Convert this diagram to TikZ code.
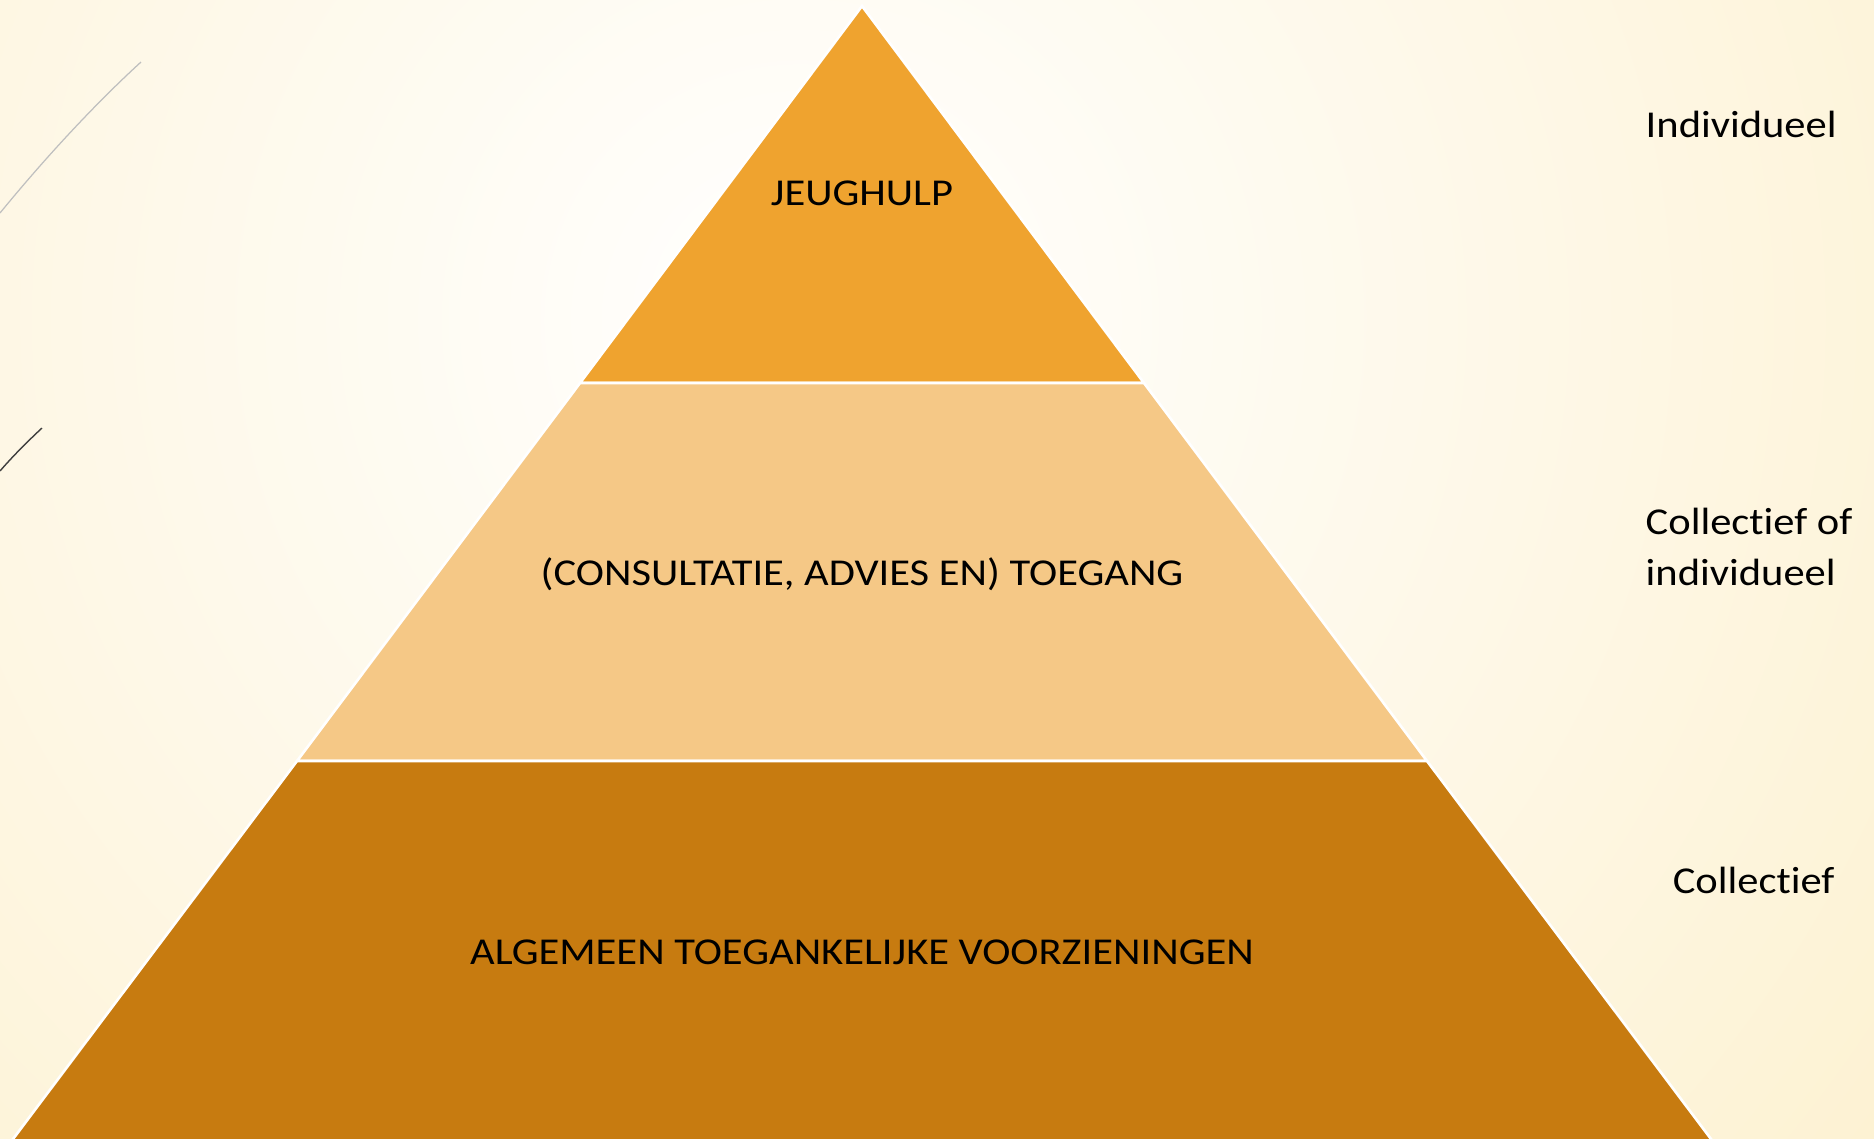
\documentclass[tikz,border=0pt]{standalone}
\usepackage{fontspec}
\setmainfont[FakeStretch=1.12,Ligatures=NoCommon]{Carlito}
\usetikzlibrary{calc}

\definecolor{bgedge}{RGB}{252,235,188}
\definecolor{tiertop}{RGB}{239,163,47}
\definecolor{tiermid}{RGB}{245,200,134}
\definecolor{tierlow}{RGB}{199,123,16}

\begin{document}
\begin{tikzpicture}[x=0.01cm,y=-0.01cm,
                    font=\fontsize{10.8}{14.5}\selectfont]
  \tikzstyle{tier}=[draw=white,line width=0.75pt,line join=miter]
  \tikzstyle{layer}=[text=black,anchor=base,inner sep=0pt]
  \tikzstyle{side}=[text=black,anchor=base west,inner sep=0pt,align=left]

  \useasboundingbox (0,0) rectangle (1874,1138);
  \clip (0,0) rectangle (1874,1138);
  \shade[inner color=white,outer color=bgedge] (800,320) circle (2050);

  % slide decoration, top left
  \draw[black!25,line width=0.35pt] (0,213) .. controls (45,158) and (95,104) .. (141,62);
  \draw[black!75,line width=0.4pt] (0,471) .. controls (12,457) and (28,441) .. (42,428);

  \coordinate (apex) at (862,6);
  \coordinate (l1) at (580,383);
  \coordinate (r1) at (1144,383);
  \coordinate (l2) at (297,761);
  \coordinate (r2) at (1427,761);
  \coordinate (l3) at (10,1143);
  \coordinate (r3) at (1714,1143);

  \filldraw[tier,fill=tiertop] (apex) -- (r1) -- (l1) -- cycle;
  \filldraw[tier,fill=tiermid] (l1) -- (r1) -- (r2) -- (l2) -- cycle;
  \filldraw[tier,fill=tierlow] (l2) -- (r2) -- (r3) -- (l3) -- cycle;

  \node[layer] (jeughulp) at (862,205) {JEUGHULP};
  \node[layer] (toegang)  at (862,585) {(CONSULTATIE, ADVIES EN) TOEGANG};
  \node[layer] (algemeen) at (862,964) {ALGEMEEN TOEGANKELIJKE VOORZIENINGEN};

  \node[side] (individueel) at (1645,137) {Individueel};
  \node[side] (beide)       at (1645,585) {Collectief of\\individueel};
  \node[side,anchor=base east] (collectief) at (1835,893) {Collectief};

\end{tikzpicture}
\end{document}
